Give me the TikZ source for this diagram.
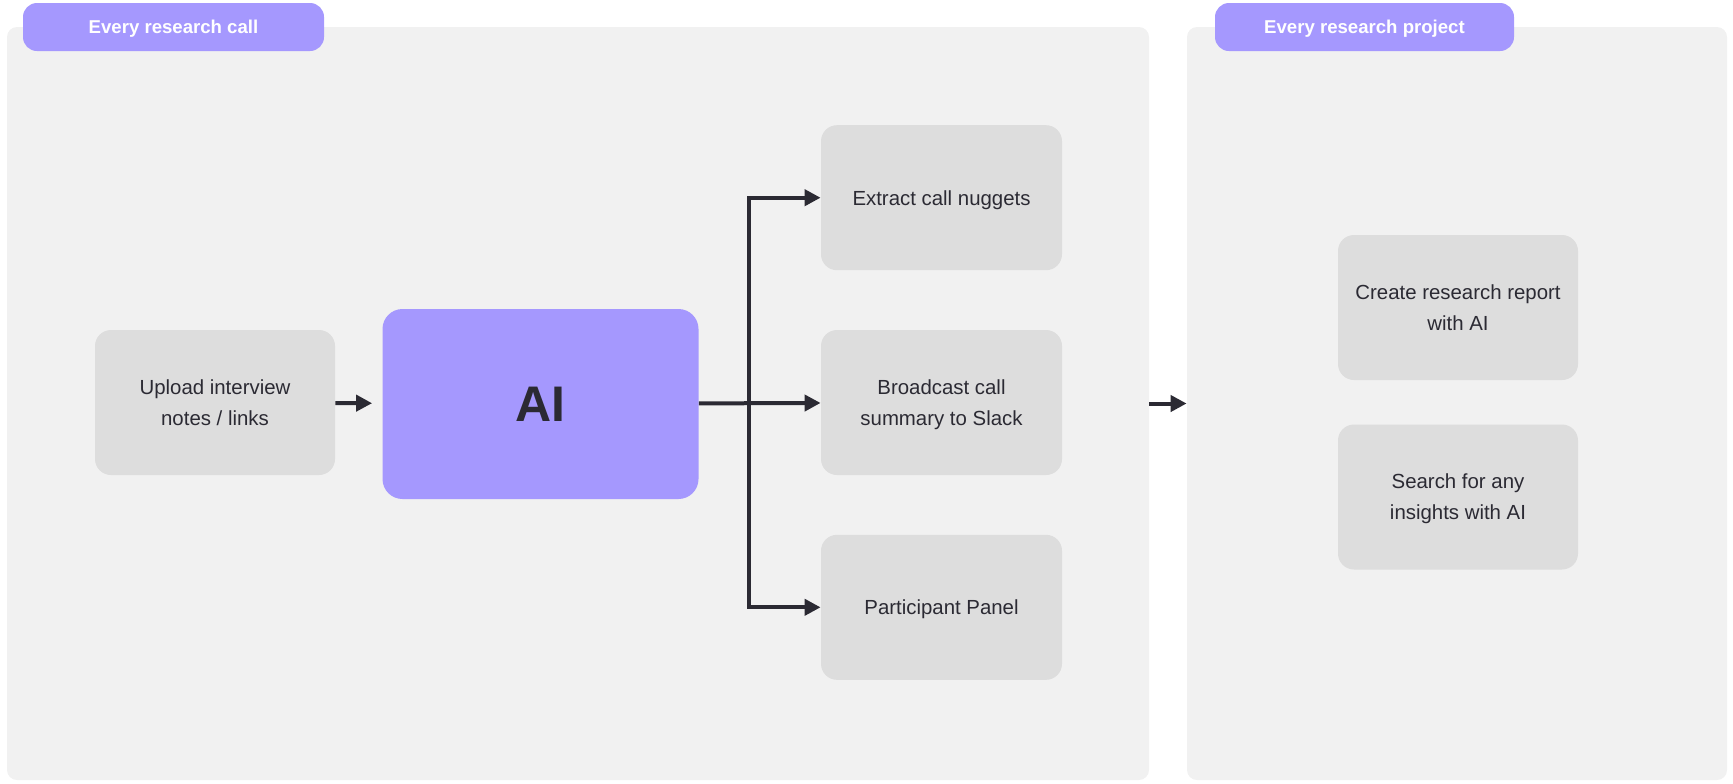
\documentclass[tikz,border=0pt]{standalone}
\usepackage{fontspec}
\setmainfont{Liberation Sans}
\usetikzlibrary{positioning,arrows.meta}
\definecolor{panelbg}{HTML}{F1F1F1}
\definecolor{stepbg}{HTML}{DDDDDD}
\definecolor{lilac}{HTML}{A598FE}
\definecolor{ink}{HTML}{2B2A33}
\tikzset{
  panel/.style={fill=panelbg, rounded corners=5pt, inner sep=0pt},
  tag/.style={fill=lilac, rounded corners=7pt, text=white, inner sep=0pt, text depth=0pt, minimum height=24pt, font=\bfseries\fontsize{9.3}{11}\selectfont},
  stepbox/.style={fill=stepbg, rounded corners=8pt, align=center, text=ink, inner sep=0pt, text depth=0pt, minimum width=120pt, minimum height=72.5pt, font=\fontsize{10.2}{15.5}\selectfont},
  aibox/.style={fill=lilac, rounded corners=10pt, text=ink, inner sep=0pt, minimum width=158pt, minimum height=95pt, font=\bfseries\fontsize{25}{30}\selectfont},
  arrow/.style={-{Triangle[length=8pt,width=8pt]}, line width=2pt, draw=ink}
}
\begin{document}
\begin{tikzpicture}[x=0.5pt, y=-0.5pt]
  \useasboundingbox (0,0) rectangle (1733,783);

  % the two panels and their tags
  \node[panel, minimum width=571pt, minimum height=376.5pt] (callpanel) at (578,403.5) {};
  \node[panel, minimum width=270pt, minimum height=376.5pt] (projpanel) at (1457,403.5) {};
  \node[tag, minimum width=150.5pt] (calltag) at (173.5,27) {Every research call};
  \node[tag, minimum width=149.5pt] (projtag) at (1364.5,27) {Every research project};

  % every research call
  \node[stepbox] (upload) at (215,402.5) {Upload interview\\notes / links};
  \node[aibox] (ai) at (540.5,404) {AI};
  \node[stepbox, minimum width=120.5pt] (summary) at (941.5,402.5) {Broadcast call\\summary to Slack};
  \node[stepbox, minimum width=120.5pt, above=29.5pt of summary] (nuggets) {Extract call nuggets};
  \node[stepbox, minimum width=120.5pt, below=29.5pt of summary] (participants) {Participant Panel};
  \coordinate[right=25pt of ai.east] (fork);

  \draw[arrow, shorten >=5pt] (upload) -- (ai);
  \draw[arrow] (ai) -- (summary);
  \draw[arrow] (fork) |- (nuggets);
  \draw[arrow] (fork) |- (participants);

  % every research project
  \node[stepbox] (report) at (1458,307.5) {Create research report\\with AI};
  \node[stepbox] (search) at (1458,497) {Search for any\\insights with AI};

  \draw[arrow] (callpanel) -- (projpanel);
\end{tikzpicture}
\end{document}
